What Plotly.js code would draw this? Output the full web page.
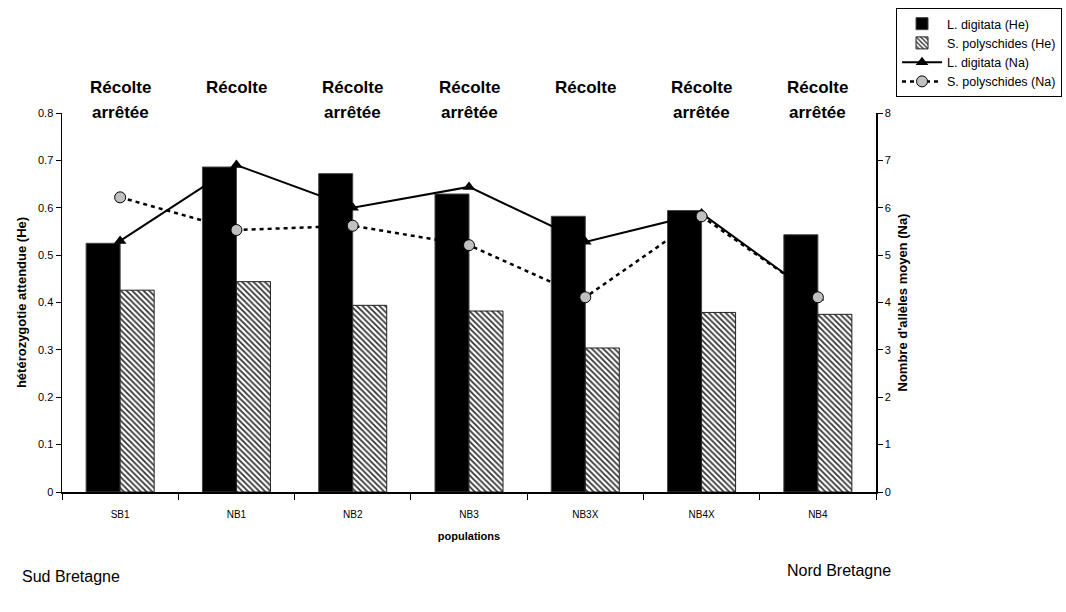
<!DOCTYPE html>
<html><head><meta charset="utf-8">
<script src="https://cdn.plot.ly/plotly-3.0.1.min.js"></script>
<style>html,body{margin:0;padding:0;background:#fff}#chart{width:1066px;height:612px}</style>
</head><body><div id="chart"></div>
<script>
const populations = ["SB1","NB1","NB2","NB3","NB3X","NB4X","NB4"];
const heDigitata = [0.525,0.686,0.672,0.629,0.582,0.594,0.543];
const hePolyschides = [0.426,0.444,0.394,0.382,0.304,0.379,0.375];
const naDigitata = [5.3,6.9,6.0,6.44,5.28,5.88,4.1];
const naPolyschides = [6.22,5.53,5.62,5.21,4.11,5.82,4.11];
const harvestLine1 = ["Récolte","Récolte","Récolte","Récolte","Récolte","Récolte","Récolte"];
const harvestLine2 = ["arrêtée","","arrêtée","arrêtée","","arrêtée","arrêtée"];

const F = "Arial, 'Liberation Sans', sans-serif";
const traces = [
  {type:"bar", name:"L. digitata (He)", x:populations, y:heDigitata,
   marker:{color:"#000", line:{color:"#444", width:1}}},
  {type:"bar", name:"S. polyschides (He)", x:populations, y:hePolyschides,
   marker:{color:"#fff", line:{color:"#222", width:1},
     pattern:{shape:"\\", fgcolor:"#333", bgcolor:"#fff", size:4, solidity:0.45}}},
  {type:"scatter", mode:"lines+markers", name:"L. digitata (Na)", x:populations, y:naDigitata, yaxis:"y2",
   line:{color:"#000", width:2}, marker:{symbol:"triangle-up", size:11, color:"#000"}},
  {type:"scatter", mode:"lines+markers", name:"S. polyschides (Na)", x:populations, y:naPolyschides, yaxis:"y2",
   line:{color:"#000", width:2.5, dash:"4px,4px"}, marker:{symbol:"circle", size:11, color:"#c0c0c0", line:{color:"#000", width:1}}}
];

const annotations = [];
populations.forEach((p,i)=>{
  annotations.push({x:p, xref:"x", y:1.066, yref:"paper", yanchor:"middle", xanchor:"center",
    text:harvestLine1[i], showarrow:false, font:{family:F, size:17, color:"#000", weight:"bold"}});
  if (harvestLine2[i]) annotations.push({x:p, xref:"x", y:1.0026, yref:"paper", yanchor:"middle", xanchor:"center",
    text:harvestLine2[i], showarrow:false, font:{family:F, size:17, color:"#000", weight:"bold"}});
});
annotations.push({xref:"paper", yref:"paper", x:-0.052, y:-0.224, xanchor:"left", yanchor:"middle",
  text:"Sud Bretagne", showarrow:false, font:{family:F, size:16, color:"#000"}});
annotations.push({xref:"paper", yref:"paper", x:0.888, y:-0.206, xanchor:"left", yanchor:"middle",
  text:"Nord Bretagne", showarrow:false, font:{family:F, size:16, color:"#000"}});

const layout = {
  width:1066, height:612, paper_bgcolor:"#fff", plot_bgcolor:"#fff",
  margin:{l:62, r:190, t:113, b:120, autoexpand:false},
  font:{family:F, color:"#000"},
  barmode:"group", bargap:0.415, bargroupgap:0,
  showlegend:true,
  legend:{x:1.0246, y:1.277, xanchor:"left", yanchor:"top", bordercolor:"#000", borderwidth:1,
    bgcolor:"#fff", font:{family:F, size:12.5, color:"#000"}, tracegroupgap:0, itemwidth:40},
  xaxis:{type:"category", showline:true, linecolor:"#000", linewidth:1.5, ticks:"outside", ticklen:6,
    tickson:"boundaries", tickcolor:"#000", tickfont:{family:F, size:10}, showgrid:false, zeroline:false,
    ticklabelstandoff:12,
    title:{text:"populations", font:{family:F, size:11, weight:"bold"}, standoff:14}},
  yaxis:{range:[0,0.8], dtick:0.1, showline:true, linecolor:"#000", linewidth:1.5, ticks:"outside", ticklen:5,
    tickcolor:"#000", tickfont:{family:F, size:11}, showgrid:false, zeroline:false,
    title:{text:"hétérozygotie attendue (He)", font:{family:F, size:13, weight:"bold"}, standoff:8}},
  yaxis2:{range:[0,8], dtick:1, overlaying:"y", side:"right", showline:true, linecolor:"#000", linewidth:1.5,
    ticks:"outside", ticklen:5, tickcolor:"#000", tickfont:{family:F, size:11}, showgrid:false, zeroline:false,
    title:{text:"Nombre d'allèles moyen (Na)", font:{family:F, size:13, weight:"bold"}, standoff:8}},
  annotations:annotations
};
Plotly.newPlot("chart", traces, layout, {displayModeBar:false, staticPlot:true});
</script></body></html>
